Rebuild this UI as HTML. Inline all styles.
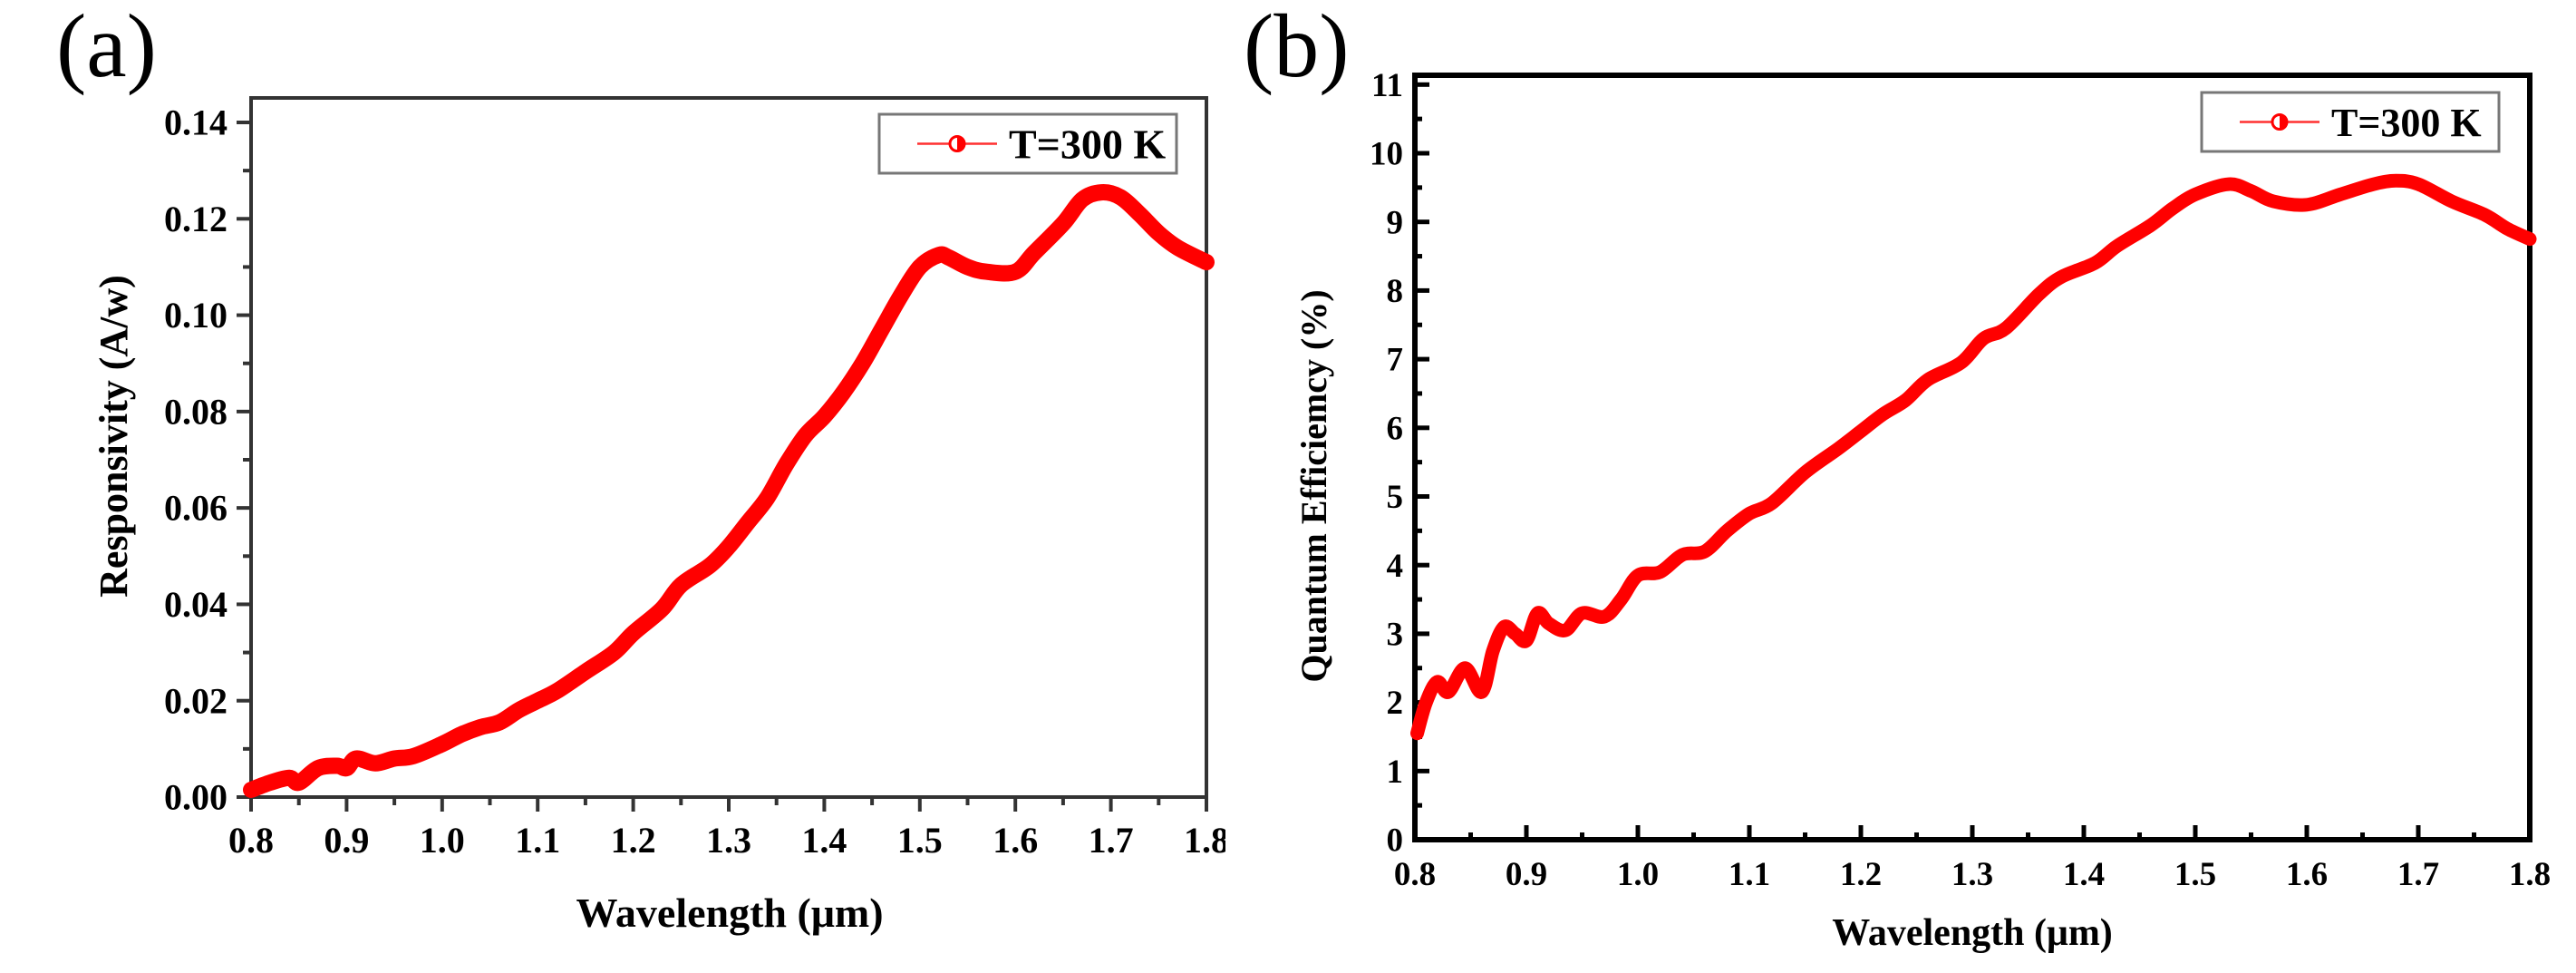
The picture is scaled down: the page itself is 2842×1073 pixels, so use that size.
<!DOCTYPE html>
<html><head><meta charset="utf-8"><style>
html,body{margin:0;padding:0;background:#fff;}
svg{display:block;}
svg text{font-family:"Liberation Serif","Times New Roman",serif;}
</style></head><body>
<svg id="fig" width="2842" height="1073" viewBox="0 0 2842 1073" xmlns="http://www.w3.org/2000/svg" font-family="Liberation Serif, serif">
<defs>
<clipPath id="clipA"><rect x="0" y="0" width="1352" height="1073"/></clipPath>
</defs>
<text x="62" y="84" font-size="100" font-family="Liberation Serif, serif">(a)</text>
<text x="1372" y="84" font-size="100" font-family="Liberation Serif, serif">(b)</text>
<g id="chartA" clip-path="url(#clipA)"></g>
<g id="chartB"></g>
</svg>
<script>
// Panel (a) data
const aWave = [0.80,0.82,0.84,0.85,0.87,0.89,0.90,0.91,0.93,0.95,0.97,1.00,1.02,1.04,1.06,1.08,1.10,1.12,1.15,1.18,1.20,1.23,1.25,1.28,1.30,1.32,1.34,1.36,1.38,1.40,1.42,1.44,1.46,1.48,1.50,1.52,1.53,1.55,1.57,1.60,1.62,1.65,1.67,1.69,1.71,1.73,1.75,1.77,1.80];
const aResp = [0.0015,0.003,0.004,0.003,0.006,0.0065,0.006,0.008,0.007,0.008,0.0085,0.011,0.013,0.0145,0.0155,0.018,0.020,0.022,0.026,0.030,0.034,0.039,0.044,0.048,0.052,0.057,0.062,0.069,0.075,0.079,0.084,0.090,0.097,0.104,0.110,0.1125,0.112,0.110,0.109,0.109,0.113,0.119,0.124,0.1255,0.1245,0.121,0.117,0.114,0.111];
const aXTicks = ["0.8","0.9","1.0","1.1","1.2","1.3","1.4","1.5","1.6","1.7","1.8"];
const aYTicks = ["0.00","0.02","0.04","0.06","0.08","0.10","0.12","0.14"];
// Panel (b) data
const bWave = [0.802,0.81,0.82,0.83,0.845,0.86,0.87,0.88,0.89,0.90,0.91,0.92,0.935,0.95,0.97,0.985,1.00,1.02,1.04,1.06,1.08,1.10,1.12,1.15,1.18,1.20,1.22,1.24,1.26,1.29,1.31,1.33,1.36,1.38,1.41,1.43,1.46,1.48,1.50,1.53,1.55,1.57,1.60,1.63,1.66,1.68,1.70,1.73,1.76,1.78,1.80];
const bQE = [1.55,2.0,2.3,2.15,2.5,2.15,2.75,3.1,3.0,2.9,3.3,3.15,3.05,3.3,3.25,3.5,3.85,3.9,4.15,4.2,4.5,4.75,4.9,5.35,5.7,5.95,6.2,6.4,6.7,6.95,7.3,7.45,7.95,8.2,8.4,8.65,8.95,9.2,9.4,9.55,9.45,9.3,9.25,9.4,9.55,9.6,9.55,9.3,9.1,8.9,8.75];
const bXTicks = ["0.8","0.9","1.0","1.1","1.2","1.3","1.4","1.5","1.6","1.7","1.8"];
const bYTicks = ["0","1","2","3","4","5","6","7","8","9","10","11"];

const NS = "http://www.w3.org/2000/svg";
const FF = "Liberation Serif, serif";
function mk(parent, tag, attrs, text){
  const e = document.createElementNS(NS, tag);
  for (const k in attrs) e.setAttribute(k, attrs[k]);
  if (tag === 'text') e.setAttribute('font-family', FF);
  if (text !== undefined) e.textContent = text;
  parent.appendChild(e);
  return e;
}
function smoothPath(pts){
  let d = 'M' + pts[0][0].toFixed(1) + ' ' + pts[0][1].toFixed(1);
  for (let i = 0; i < pts.length - 1; i++) {
    const p0 = pts[Math.max(0, i-1)], p1 = pts[i], p2 = pts[i+1], p3 = pts[Math.min(pts.length-1, i+2)];
    const c1x = p1[0] + (p2[0]-p0[0])/6, c1y = p1[1] + (p2[1]-p0[1])/6;
    const c2x = p2[0] - (p3[0]-p1[0])/6, c2y = p2[1] - (p3[1]-p1[1])/6;
    d += ` C${c1x.toFixed(1)} ${c1y.toFixed(1)} ${c2x.toFixed(1)} ${c2y.toFixed(1)} ${p2[0].toFixed(1)} ${p2[1].toFixed(1)}`;
  }
  return d;
}

function drawPanel(cfg){
  const g = document.getElementById(cfg.id);
  const {L,R,T,B,xMin,xMax,yMin,yMax} = cfg;
  const sx = v => L + (v - xMin) / (xMax - xMin) * (R - L);
  const sy = v => B - (v - yMin) / (yMax - yMin) * (B - T);
  const dir = cfg.inward ? -1 : 1;
  cfg.xTicks.forEach((lab, i) => {
    const v = parseFloat(lab);
    const x = sx(v);
    const t = mk(g, 'line', {x1:x, y1:B, x2:x, y2:B + dir*cfg.majLen, stroke:cfg.axisColor, 'stroke-width':cfg.tickW});
    
    
    if (i < cfg.xTicks.length - 1) {
      const xm = sx(v + 0.05);
      const m = mk(g, 'line', {x1:xm, y1:B, x2:xm, y2:B + dir*cfg.minLen, stroke:cfg.axisColor, 'stroke-width':cfg.tickW});
      
      
    }
    const tl = mk(g, 'text', {x:x, y:cfg.xLabY, 'font-size':cfg.tickFs, 'font-weight':'bold', 'text-anchor':'middle'}, lab);
    
    
  });
  cfg.yTicks.forEach((lab, i) => {
    const v = parseFloat(lab);
    const y = sy(v);
    const t = mk(g, 'line', {x1:L, y1:y, x2:L - dir*cfg.majLen, y2:y, stroke:cfg.axisColor, 'stroke-width':cfg.tickW});
    
    
    if (i < cfg.yTicks.length - 1) {
      const ym = sy(v + cfg.yStep/2);
      const m = mk(g, 'line', {x1:L, y1:ym, x2:L - dir*cfg.minLen, y2:ym, stroke:cfg.axisColor, 'stroke-width':cfg.tickW});
      
      
    }
    const tl = mk(g, 'text', {x:cfg.yLabX, y:y + cfg.tickFs*0.34, 'font-size':cfg.tickFs, 'font-weight':'bold', 'text-anchor':'end'}, lab);
    
    
  });
  const fr = mk(g, 'rect', {x:L, y:T, width:R-L, height:B-T, fill:'none', stroke:cfg.axisColor, 'stroke-width':cfg.axisW});
  
  
  const pts = cfg.xs.map((v, i) => [sx(v), sy(cfg.ys[i])]);
  const p = mk(g, 'path', {d:smoothPath(pts), fill:'none', stroke:'#ff0000', 'stroke-width':cfg.lineW, 'stroke-linejoin':'round', 'stroke-linecap':'round'});
  
  
  const lg = mk(g, 'g', {});
  
  
  const lb = cfg.legend;
  mk(lg, 'rect', {x:lb.x, y:lb.y, width:lb.w, height:lb.h, fill:'#fff', stroke:'#777', 'stroke-width':3});
  const cy = lb.y + lb.h/2;
  mk(lg, 'line', {x1:lb.x+42, y1:cy, x2:lb.x+130, y2:cy, stroke:'#ff3030', 'stroke-width':2.5});
  mk(lg, 'circle', {cx:lb.x+86, cy:cy, r:8, fill:'#fff', stroke:'#ff0000', 'stroke-width':3});
  mk(lg, 'path', {d:`M${lb.x+86} ${cy-8} A8 8 0 0 1 ${lb.x+86} ${cy+8} Z`, fill:'#ff0000'});
  mk(lg, 'text', {x:lb.x+143, y:cy+lb.fs*0.35, 'font-size':lb.fs, 'font-weight':'bold'}, 'T=300 K');
  const xt = mk(g, 'text', {x:cfg.xTitle.x, y:cfg.xTitle.y, 'font-size':cfg.xTitle.fs, 'font-weight':'bold', 'text-anchor':'middle'}, 'Wavelength (μm)');
  
  
  const yt = mk(g, 'text', {x:0, y:0, 'font-size':cfg.yTitle.fs, 'font-weight':'bold', 'text-anchor':'middle', transform:`translate(${cfg.yTitle.x},${cfg.yTitle.y}) rotate(-90)`}, cfg.yTitle.text);
  
  
}

drawPanel({id:'chartA', L:277, R:1331, T:108, B:879, xMin:0.8, xMax:1.8, yMin:0, yMax:0.14*(879-108)/(879-135),
  xs:aWave, ys:aResp, xTicks:aXTicks, yTicks:aYTicks, yStep:0.02, inward:false,
  majLen:16, minLen:9, tickW:4, axisW:4, axisColor:'#333', lineW:18, tickFs:40, xLabY:940, yLabX:251,
  legend:{x:970, y:126, w:328, h:65, fs:46},
  xTitle:{x:805, y:1022, fs:46}, yTitle:{x:140, y:481, fs:44, text:'Responsivity (A/w)'}});

drawPanel({id:'chartB', L:1561, R:2791, T:83, B:926, xMin:0.8, xMax:1.8, yMin:0, yMax:(926-83)/75.7,
  xs:bWave, ys:bQE, xTicks:bXTicks, yTicks:bYTicks, yStep:1, inward:true,
  majLen:16, minLen:8, tickW:5, axisW:6, axisColor:'#000', lineW:15, tickFs:37, xLabY:976, yLabX:1548,
  legend:{x:2429, y:102, w:328, h:65, fs:44},
  xTitle:{x:2176, y:1042, fs:42}, yTitle:{x:1463, y:536, fs:40, text:'Quantum Efficiemcy (%)'}});
</script>
</body></html>
